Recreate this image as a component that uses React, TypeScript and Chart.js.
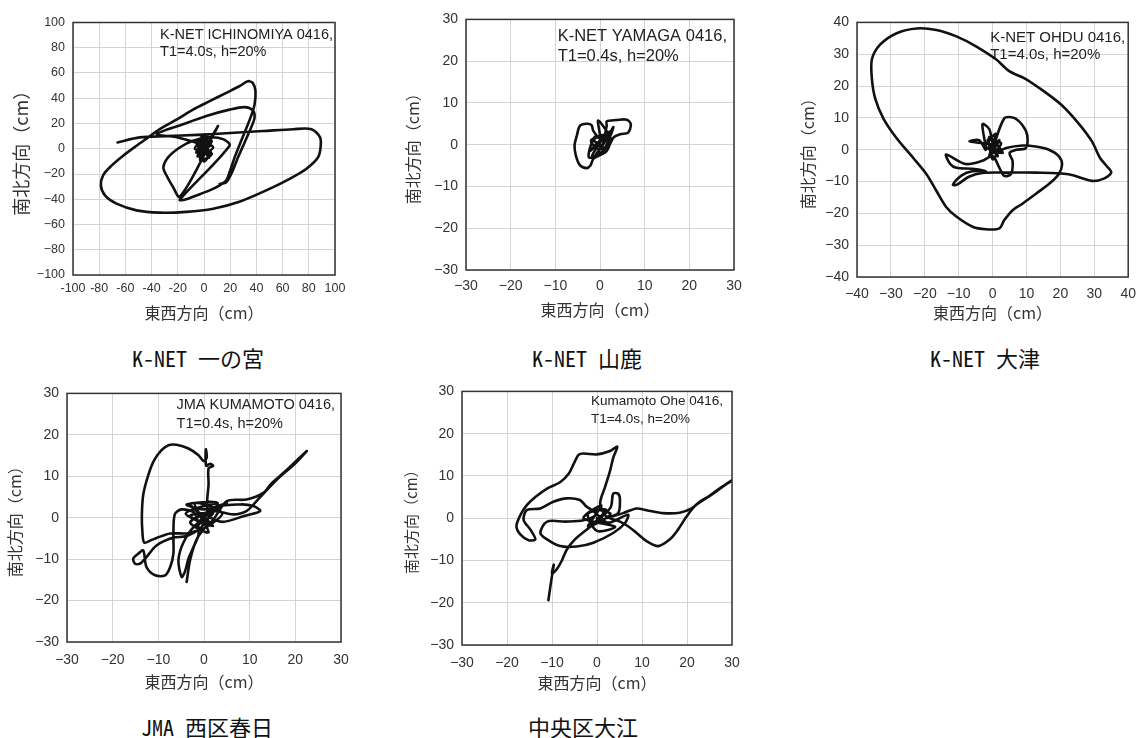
import React, { useEffect, useRef } from 'react';
import { Chart, registerables } from 'chart.js';

Chart.register(...registerables);

// ---------- data (cm): [east-west, north-south] ----------
const ICHINOMIYA_ORBIT: number[][] = [
  [-66, 5], [-49, 9], [-29, 10], [-5, 11], [20, 12.5], [45, 14], [68, 15.5], [82, 15.5], [88.6, 9], [89, 1],
  [87, -7], [78, -16], [65, -24], [47.5, -33], [27, -42], [7, -47.5], [-13.5, -50], [-34, -50.6], [-51.5, -48.8],
  [-66.8, -43.5], [-75.6, -37], [-78.7, -29], [-77, -21], [-70.6, -13.4], [-61.7, -5.5], [-51.5, 2.4], [-42.6, 9],
  [-33.8, 15.5], [-21, 23], [-8.4, 31], [4.3, 37.7], [17, 44.3], [27, 49.5], [33.5, 53.5], [37.3, 52], [39.3, 45.6],
  [38.6, 35], [36, 26], [32, 15.5], [28.4, 6.3], [23.4, -6.8], [19.5, -18.6], [17, -25], [12, -29], [4.3, -33],
  [-5.8, -37], [-14.7, -40.4], [-18.5, -40.4], [19.5, 2.4], [14.5, 7.6], [4.3, 9], [-8.4, 6.3], [-18.5, 1],
  [-27.4, -6.8], [-31, -14.7], [-28.7, -21], [-23.6, -30.4], [-18.5, -38], [-0.8, -6.8], [3, 5], [-5, 2], [6, -4],
  [-3, -9], [2, 8], [-6, -3], [5, 3], [-2, 10], [4, -7], [-4, 6], [7, 1], [-5, -6], [3, 11], [-7, 0], [5, -2],
  [0, -10], [-3, 4], [6, 6], [-1, -3], [10.7, 18], [3, 4], [-4, -4], [2, 9], [-6, 5], [4, -4], [1, 2],
  [-20, 9], [-36, 11.5], [-16, 19.4], [1.8, 26], [19.5, 31], [31, 33], [37.3, 30.4], [38.6, 24.6], [36, 16.8],
  [31, 5], [26, -6.8], [20.8, -20], [17, -26.5], [12, -28],
];

const YAMAGA_ORBIT: number[][] = [
  [0, 0], [-1.5, 1.2], [1.8, 2.5], [-2.2, -1.5], [2.5, 3.5], [-1, -2.5], [1, 0.5], [3, 4.2], [0.5, -1.8], [-2.5, -3],
  [-1, 2], [2.5, 1], [-0.4, 5.8], [0, 1.5], [-1.5, 3.3], [-1.9, 4.7], [-3, 5], [-4.5, 4.5], [-5.2, 2.1], [-5.7, -0.2],
  [-5.4, -2.6], [-4.5, -4.9], [-3, -5.6], [-2.1, -4.9], [-1.5, -3.4], [0, -2.5], [1.5, -1.5], [2.2, 0.8], [1.2, 2.5],
  [1.5, 4.5], [1.5, 5.6], [3.7, 5.9], [6, 6], [6.9, 4.9], [6.3, 2.9], [4.5, 2.5], [3, 1.7], [1.8, -0.5], [-0.5, -1],
  [-2, 1], [0.8, 2.2], [-1.8, -2.8], [1.2, -1], [-1, 0], [0, 0],
];

const OHDU_ORBIT: number[][] = [
  [0, 0], [2, 3], [-1, -2], [1, 5], [-2, 1], [3, -1], [-1, 4], [0, -3], [2, 1], [-3, 2], [-6.8, 2.6], [-4, 3], [-2, 0],
  [-3, 8], [-1, 6.5], [0, 2], [1.5, -2], [-1.5, 3], [2.5, 2], [0, -1], [3.4, 9.8], [6.3, 10], [8.8, 7.7],
  [10.2, 4.6], [9.8, 0.5], [7, 0], [5, -1], [5.9, -3.6], [5.4, -7.7], [3.4, -8.2], [2, -5.7], [0, -2], [-3, -3.5],
  [-8, -4.5], [-13.7, -1.5], [-12.5, -4.5], [-10.7, -5.7], [-6, -6], [-2, -6.7], [-6, -6.8], [-9, -8], [-11.7, -11],
  [-10.5, -11], [-7, -8.5], [-3, -7.3], [4.9, -7.2], [12.7, -7.2], [22.4, -7.7], [29.3, -9.8], [33, -9], [35, -7.2],
  [33.7, -5.2], [31.7, -2.6], [29.3, 2.6], [25.4, 8.2], [20.5, 13.9], [15.6, 18], [9.8, 22.2], [4.9, 24.7],
  [1, 28.4], [-4.9, 32.5], [-10.7, 35.6], [-16.6, 37.6], [-22.4, 38.1], [-28.3, 36.6], [-33.2, 33], [-35.6, 28.4],
  [-35.6, 22.2], [-34.6, 16], [-32.2, 9.8], [-28.3, 3.6], [-23.4, -2.6], [-19.5, -7.7], [-16.6, -12.9], [-13.7, -18],
  [-10.7, -21], [-5.9, -24.2], [-2, -25], [2, -24.7], [3.4, -22.2], [5.9, -19], [8.8, -17], [12.7, -13.9],
  [16.6, -10.8], [19.5, -7.7], [20.5, -4.6], [19.5, -2], [16.6, 0], [12.7, 1], [8.8, 1.3], [4, 0.5], [1, -1],
];

const KUMAMOTO_ORBIT: number[][] = [
  [0, 0], [-3, 3], [2, -2], [-4, 1], [3, 3.2], [-1, -3], [4, 1], [-2, 3.5], [1, -3.5], [-3, -1], [5, 3.5], [0, 2],
  [-3.8, 3.2], [3, 3.5], [-2, -2], [2, 1], [-3, 0.5], [1, -1.5], [5, 4], [9.3, 4.4], [13, 6], [14.8, 8.3],
  [18.1, 11.5], [22.5, 16.1], [19.6, 12.7], [16.6, 9.9], [14.1, 7.1], [11.5, 4], [9.3, 1.6], [6.4, 0.8], [2, 1.5],
  [-1, -1], [2, 2.4], [7.9, 3.2], [10.8, 2.8], [12.3, 1.6], [9, 0.5], [4, -1], [1, 0.5], [0.7, 4], [1, 8],
  [1, 11.9], [2, 12.5], [1.3, 13], [0.5, 12.5], [0.4, 16.5], [0.6, 14.5], [-0.1, 13.7], [-1.2, 15.1], [-3.4, 16.7],
  [-6, 17.6], [-7.8, 17.5], [-9.3, 16.3], [-10.9, 13.9], [-12.2, 10.3], [-13.3, 5.6], [-13.6, 0.8], [-13.5, -3.2],
  [-13.1, -6], [-11.5, -5.4], [-10.4, -4.9], [-7.4, -3.8], [-3.8, -3.8], [-1.6, -3.2], [-4, -4.5], [-6.7, -4.8],
  [-10.4, -6.7], [-12.6, -9.5], [-14, -11.1], [-15.1, -11.1], [-15.5, -9.9], [-14.4, -8.7], [-13.3, -7.9],
  [-12.6, -11.9], [-10.7, -13.9], [-8.5, -13.9], [-7.4, -11.9], [-6.7, -8.7], [-6.7, -4], [-6.4, 0.8], [-4.9, 2],
  [-2, 1], [-1.2, -4], [-2.3, -7.1], [-3.4, -9.9], [-4.2, -13.1], [-4.9, -14.3], [-5.6, -10.3], [-4.5, -6], [-2, -2],
  [1, -1], [-1.5, -5], [-3, -10], [-3.8, -15.5],
];

const OHE_ORBIT: number[][] = [
  [0, 0], [2, -1], [-1, 2], [3, 1], [-2, -2], [1, 3], [-3, 0], [4, -2], [0, -3], [-2, 1], [2, 2], [-1, -1.5],
  [3, 2.5], [3.6, 5.8], [4.7, 5.8], [5.1, 4.3], [4.7, 1.2], [2, 0], [5.8, 1.2], [8.8, 2.3], [11, 1.9], [14.7, 1.2],
  [18.4, 1.3], [21, 2.3], [22.8, 3.9], [24.6, 5], [27.2, 7], [30, 8.9], [31, 9.6], [29, 8.3], [25.8, 5.8], [22, 3.1],
  [19.9, 0.4], [18, -2.7], [16.2, -5], [13.6, -6.6], [11, -5.4], [8.8, -3.5], [6.9, -1.9], [5.1, -0.8], [2, 0.5],
  [0.7, 3.5], [1.8, 7.4], [2.9, 11.2], [3.6, 14.3], [4.5, 16.9], [2.9, 15.9], [0, 15.1], [-3, 15.3], [-4.1, 15],
  [-5.2, 12.8], [-6.3, 10.5], [-8.2, 8.5], [-11.1, 7], [-13.7, 5], [-15.6, 3.1], [-17, 0.8], [-17.9, -1.9],
  [-17, -3.9], [-15.2, -5.2], [-13.7, -5], [-14.8, -2.7], [-16.3, -0.4], [-15.6, 1.9], [-12.6, 2.3], [-9.7, 3.9],
  [-6.7, 4.7], [-3.8, 4.3], [-2.3, 2.7], [0, 1], [-3, -0.5], [-7, -0.8], [-11.1, -0.8], [-12.6, -3.5], [-11.1, -5],
  [-8.2, -6.6], [-4.5, -6.7], [-0.8, -5.8], [3.6, -3.5], [6.2, -1.2], [6.9, 0.8], [3, -1], [0, -1], [-2.3, -2.7],
  [-4.9, -5], [-6.7, -7.4], [-7.8, -10], [-8.9, -12], [-10, -13.1], [-9.6, -11], [-10.2, -15], [-10.8, -19.4],
];

const TICKS_100 = [-100, -80, -60, -40, -20, 0, 20, 40, 60, 80, 100];
const TICKS_30 = [-30, -20, -10, 0, 10, 20, 30];
const TICKS_40 = [-40, -30, -20, -10, 0, 10, 20, 30, 40];

const STATION_NOTES = [
  'K-NET ICHINOMIYA 0416,',
  'K-NET YAMAGA 0416,',
  'K-NET OHDU 0416,',
  'JMA KUMAMOTO 0416,',
  'Kumamoto Ohe 0416,',
];
const PERIOD_NOTES = ['T1=4.0s, h=20%', 'T1=0.4s, h=20%', 'T1=4.0s, h=20%', 'T1=0.4s, h=20%', 'T1=4.0s, h=20%'];
const CAPTIONS = ['K-NET 一の宮', 'K-NET 山鹿', 'K-NET 大津', 'JMA 西区春日', '中央区大江'];
const X_TITLE = '東西方向（cm）';
const Y_TITLE = '南北方向（cm）';

// ---------- layout ----------
type Layout = {
  l: number; t: number; w: number; h: number;
  yW: number; pt: number; pr: number; xH: number;
  tick: number; xPad: number; yTitle: number; xTitle: number;
  note: number; noteR: number; noteY1: number; noteY2: number;
  hyphen: boolean; cx: number; cy: number;
};

const LAYOUTS: Layout[] = [
  { l: 73, t: 21, w: 262, h: 254, yW: 67, pt: 14, pr: 22, xH: 52, tick: 12.5, xPad: 6, yTitle: 18, xTitle: 16, note: 14.5, noteR: 2, noteY1: 12, noteY2: 29, hyphen: true, cx: 198, cy: 357 },
  { l: 466, t: 15, w: 268, h: 255, yW: 67, pt: 12, pr: 22, xH: 54, tick: 14, xPad: 8, yTitle: 16, xTitle: 16, note: 16.5, noteR: 7, noteY1: 17, noteY2: 37, hyphen: false, cx: 587, cy: 357 },
  { l: 857, t: 18, w: 274, h: 259, yW: 63, pt: 12, pr: 14, xH: 50, tick: 14, xPad: 9, yTitle: 16, xTitle: 16, note: 15, noteR: 3, noteY1: 15, noteY2: 32, hyphen: false, cx: 985, cy: 357 },
  { l: 67, t: 391, w: 274, h: 251, yW: 66, pt: 14, pr: 22, xH: 54, tick: 14, xPad: 10, yTitle: 16, xTitle: 16, note: 14.5, noteR: 6, noteY1: 12, noteY2: 31, hyphen: false, cx: 207, cy: 726 },
  { l: 462, t: 389, w: 270, h: 256, yW: 64, pt: 14, pr: 22, xH: 52, tick: 14, xPad: 10, yTitle: 15, xTitle: 16, note: 13.5, noteR: 9, noteY1: 10, noteY2: 28, hyphen: false, cx: 583, cy: 726 },
];

const PANELS = [
  { orbit: ICHINOMIYA_ORBIT, ticks: TICKS_100 },
  { orbit: YAMAGA_ORBIT, ticks: TICKS_30 },
  { orbit: OHDU_ORBIT, ticks: TICKS_40 },
  { orbit: KUMAMOTO_ORBIT, ticks: TICKS_30 },
  { orbit: OHE_ORBIT, ticks: TICKS_30 },
];

const SANS = '"Liberation Sans", Arial, sans-serif';
const CJK = '"Noto Sans CJK JP", "Noto Sans", sans-serif';

const framePlugin = {
  id: 'orbitFrame',
  beforeDatasetsDraw(chart: any, _args: any, opts: any) {
    const { ctx, chartArea } = chart;
    ctx.save();
    ctx.font = `${opts.size}px ${SANS}`;
    ctx.fillStyle = '#222';
    ctx.textBaseline = 'middle';
    ctx.textAlign = 'left';
    const w = ctx.measureText(opts.lines[0]).width;
    const x0 = chartArea.right - opts.padRight - w;
    ctx.fillText(opts.lines[0], x0, chartArea.top + opts.y1);
    ctx.fillText(opts.lines[1], x0, chartArea.top + opts.y2);
    ctx.restore();
  },
  afterDatasetsDraw(chart: any) {
    const { ctx, chartArea } = chart;
    ctx.save();
    ctx.strokeStyle = '#333';
    ctx.lineWidth = 1.5;
    ctx.strokeRect(chartArea.left, chartArea.top, chartArea.right - chartArea.left, chartArea.bottom - chartArea.top);
    ctx.restore();
  },
};

function OrbitPanel({ index }: { index: number }) {
  const ref = useRef<HTMLCanvasElement | null>(null);
  const L = LAYOUTS[index];
  const P = PANELS[index];
  const cw = L.yW + L.w + L.pr;
  const ch = L.pt + L.h + L.xH;

  useEffect(() => {
    if (!ref.current) return;
    const ticks = P.ticks;
    const min = ticks[0];
    const max = ticks[ticks.length - 1];
    const step = ticks[1] - ticks[0];
    const fmt = (hy: boolean) => (v: any) => {
      const n = Number(v);
      if (n < 0) return (hy ? '-' : '\u2212') + String(Math.abs(n));
      return String(n);
    };
    const chart = new Chart(ref.current, {
      type: 'scatter',
      data: {
        datasets: [
          {
            data: P.orbit.map((p) => ({ x: p[0], y: p[1] })),
            showLine: true,
            borderColor: '#111',
            borderWidth: 2.6,
            pointRadius: 0,
            tension: 0.3,
            borderJoinStyle: 'round',
            borderCapStyle: 'round',
          } as any,
        ],
      },
      options: {
        animation: false,
        responsive: false,
        devicePixelRatio: 1,
        events: [],
        layout: { padding: { top: L.pt, right: L.pr, left: 0, bottom: 0 } },
        plugins: {
          legend: { display: false },
          tooltip: { enabled: false },
          orbitFrame: {
            size: L.note,
            padRight: L.noteR,
            y1: L.noteY1,
            y2: L.noteY2,
            lines: [STATION_NOTES[index], PERIOD_NOTES[index]],
          },
        } as any,
        scales: {
          x: {
            type: 'linear',
            min,
            max,
            afterFit: (s: any) => { s.height = L.xH; },
            grid: { color: '#d4d4d4', lineWidth: 1, drawTicks: false },
            border: { display: false },
            ticks: {
              stepSize: step,
              autoSkip: false,
              maxRotation: 0,
              padding: L.xPad,
              color: '#333',
              font: { family: SANS, size: L.tick },
              callback: fmt(L.hyphen),
            },
            title: {
              display: true,
              text: X_TITLE,
              color: '#333',
              font: { family: CJK, size: L.xTitle },
              padding: { top: 4, bottom: 4 },
            },
          },
          y: {
            type: 'linear',
            min,
            max,
            afterFit: (s: any) => { s.width = L.yW; },
            grid: { color: '#d4d4d4', lineWidth: 1, drawTicks: false },
            border: { display: false },
            ticks: {
              stepSize: step,
              autoSkip: false,
              padding: 8,
              color: '#333',
              font: { family: SANS, size: L.tick },
              callback: fmt(false),
            },
            title: {
              display: true,
              text: Y_TITLE,
              color: '#333',
              font: { family: CJK, size: L.yTitle },
              padding: { top: 4, bottom: 4 },
            },
          },
        },
      },
      plugins: [framePlugin as any],
    });
    return () => chart.destroy();
  }, [index]);

  return (
    <>
      <canvas
        ref={ref}
        width={cw}
        height={ch}
        style={{ position: 'absolute', left: L.l - L.yW, top: L.t - L.pt, width: cw, height: ch }}
      />
      <div
        style={{
          position: 'absolute',
          left: L.cx,
          top: L.cy - 13,
          transform: 'translateX(-50%)',
          fontFamily: '"Noto Sans Mono CJK JP", "Noto Sans CJK JP", sans-serif',
          fontSize: 22,
          lineHeight: '26px',
          color: '#111',
          whiteSpace: 'nowrap',
        }}
      >
        {CAPTIONS[index]}
      </div>
    </>
  );
}

export default function App() {
  return (
    <div style={{ position: 'absolute', left: 0, top: 0, width: 1145, height: 738, background: '#fff', overflow: 'hidden' }}>
      {PANELS.map((_, i) => (
        <OrbitPanel key={i} index={i} />
      ))}
    </div>
  );
}
